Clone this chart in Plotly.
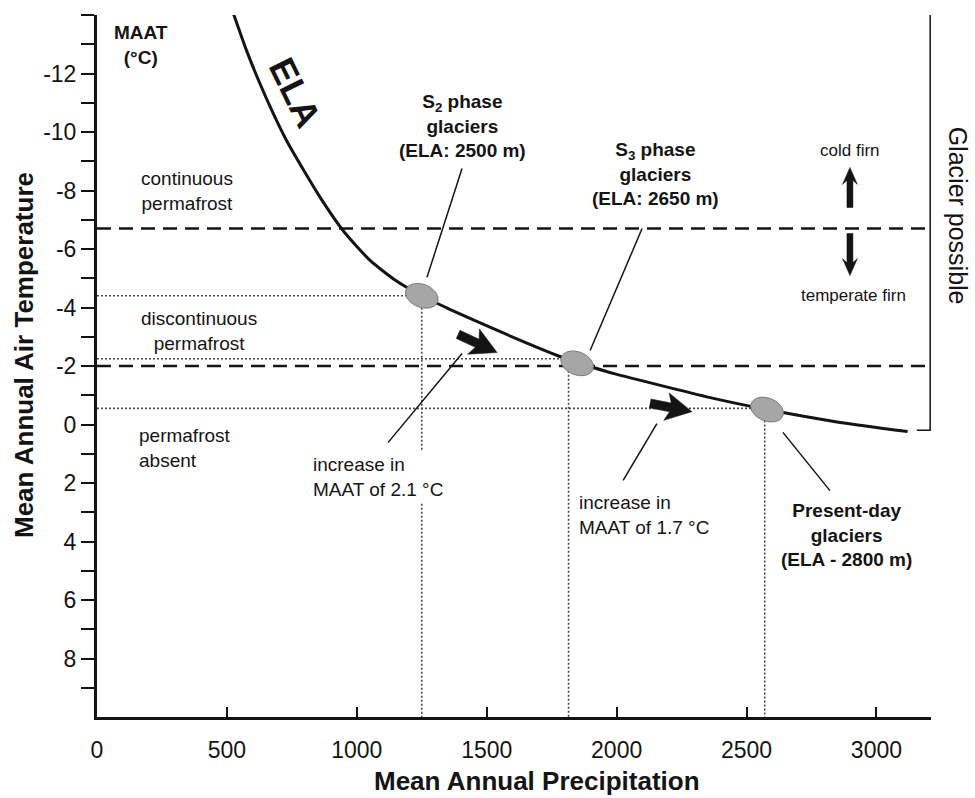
import numpy as np
import plotly.graph_objects as go

# ---------------- data ----------------
ela_map = [525, 575, 625, 680, 730, 795, 860, 950, 1050, 1150, 1250, 1360, 1550, 1790, 1910, 1990, 2360, 2580, 2860, 3120]
ela_maat = [-14.05, -12.8, -11.7, -10.6, -9.7, -8.7, -7.75, -6.6, -5.62, -4.92, -4.4, -3.93, -3.18, -2.3, -1.95, -1.74, -0.92, -0.51, -0.07, 0.24]

glacier_names = ["S2", "S3", "Present"]
glacier_map = [1250, 1848, 2579]
glacier_maat = [-4.4, -2.09, -0.51]

ref_map = [1250, 1815, 2570]
ref_maat = [-4.4, -2.25, -0.55]

permafrost_limits = [-6.7, -2.0]
glacier_possible = [-14.1, 0.2]

x_ticks = [0, 500, 1000, 1500, 2000, 2500, 3000]
y_ticks = [-12, -10, -8, -6, -4, -2, 0, 2, 4, 6, 8]
y_minor = [-14, -13, -11, -9, -7, -5, -3, -1, 1, 3, 5, 7, 9]

X_RANGE = [0, 3210]
Y_RANGE = [10, -14]

FONT = "Liberation Sans, Arial, Helvetica, sans-serif"
INK = "#141414"

# layout geometry (pixels)
W, H = 975, 798
ML, MR, MT, MB = 97, 44, 15, 81
PW, PH = W - ML - MR, H - MT - MB
PX_X = PW / (X_RANGE[1] - X_RANGE[0])
PX_Y = PH / abs(Y_RANGE[0] - Y_RANGE[1])

fig = go.Figure()

# dashed permafrost limits
for v in permafrost_limits:
    fig.add_trace(go.Scatter(x=[0, 3195], y=[v, v], mode="lines",
                             line=dict(color=INK, width=2.5, dash="14px,8px"),
                             hoverinfo="skip", showlegend=False))

# dotted reference lines
for mx, my in zip(ref_map, ref_maat):
    fig.add_trace(go.Scatter(x=[0, mx], y=[my, my], mode="lines",
                             line=dict(color="#4a4a4a", width=1.6, dash="2px,2px"),
                             hoverinfo="skip", showlegend=False))
    fig.add_trace(go.Scatter(x=[mx, mx], y=[my, Y_RANGE[0]], mode="lines",
                             line=dict(color="#4a4a4a", width=1.6, dash="2px,2px"),
                             hoverinfo="skip", showlegend=False))

# ELA curve
fig.add_trace(go.Scatter(x=ela_map, y=ela_maat, mode="lines",
                         line=dict(color=INK, width=3, shape="spline", smoothing=0.6),
                         hoverinfo="skip", showlegend=False))

# glacier ellipses (tilted, size in pixels)
a_px, b_px, th = 17, 11.5, np.deg2rad(22)
t = np.linspace(0, 2 * np.pi, 60)
for cx, cy in zip(glacier_map, glacier_maat):
    dx = a_px * np.cos(t) * np.cos(th) - b_px * np.sin(t) * np.sin(th)
    dy = a_px * np.cos(t) * np.sin(th) + b_px * np.sin(t) * np.cos(th)
    fig.add_trace(go.Scatter(x=cx + dx / PX_X, y=cy + dy / PX_Y, mode="lines",
                             fill="toself", fillcolor="#a6a6a6",
                             line=dict(color="#7a7a7a", width=1),
                             hoverinfo="skip", showlegend=False))

# block arrows: (tail, tip, shaft width px, head length px, head width px)
arrows = [((1390, -3.08), (1540, -2.46), 9, 22, 28),
          ((2129, -0.72), (2290, -0.44), 9, 22, 28),
          ((2898, -7.42), (2898, -8.79), 6, 13, 15),
          ((2898, -6.53), (2898, -5.09), 6, 13, 15)]
for (tx, ty), (hx, hy), sw, hl, hw in arrows:
    # work in pixel space (screen y grows with MAAT because the axis is reversed)
    p0 = np.array([tx * PX_X, ty * PX_Y])
    p1 = np.array([hx * PX_X, hy * PX_Y])
    u = (p1 - p0) / np.linalg.norm(p1 - p0)
    n = np.array([-u[1], u[0]])
    neck = p1 - u * hl
    notch = 4
    pts = [p0 + n * sw / 2, neck + n * sw / 2, neck - u * notch + n * hw / 2, p1,
           neck - u * notch - n * hw / 2, neck - n * sw / 2, p0 - n * sw / 2, p0 + n * sw / 2]
    fig.add_trace(go.Scatter(x=[p[0] / PX_X for p in pts], y=[p[1] / PX_Y for p in pts],
                             mode="lines", fill="toself", fillcolor=INK,
                             line=dict(color=INK, width=0.5),
                             hoverinfo="skip", showlegend=False))

shapes = []
# leader lines
leaders = [((1405, -8.75), (1270, -5.03)),
           ((2098, -6.7), (1898, -2.53)),
           ((1405, -2.43), (1120, 0.62)),
           ((2155, -0.03), (2025, 1.91)),
           ((2640, 0.27), (2821, 2.26))]
for (x0, y0), (x1, y1) in leaders:
    shapes.append(dict(type="line", xref="x", yref="y", x0=x0, y0=y0, x1=x1, y1=y1,
                       line=dict(color=INK, width=1.5)))
# "Glacier possible" bracket
shapes.append(dict(type="path", xref="paper", yref="y",
                   path=f"M 0.983,{glacier_possible[0]} L 0.999,{glacier_possible[0]} "
                        f"L 0.999,{glacier_possible[1]} L 0.983,{glacier_possible[1]}",
                   line=dict(color=INK, width=1.5)))

ann = []


def txt(x, y, text, size=19, bold=False, xanchor="center", align="center", **kw):
    if bold:
        text = "<br>".join(f"<b>{s}</b>" for s in text.split("<br>"))
    d = dict(x=x, y=y, xref="x", yref="y", text=text, showarrow=False,
             font=dict(family=FONT, size=size, color=INK),
             xanchor=xanchor, yanchor="middle", align=align)
    d.update(kw)
    ann.append(d)


txt(169, -12.96, "MAAT<br>(°C)", size=19, bold=True)
txt(762, -11.35, "<b>ELA</b>", size=36, textangle=64)
txt(346, -7.97, "continuous<br>permafrost")
txt(393, -3.18, "discontinuous<br>permafrost")
txt(154, 0.79, "permafrost<br>absent", xanchor="left", align="left")
txt(1405, -10.22, "S<sub>2</sub> phase<br>glaciers<br>(ELA: 2500 m)", size=19, bold=True)
txt(2148, -8.58, "S<sub>3</sub> phase<br>glaciers<br>(ELA: 2650 m)", size=19, bold=True)
txt(2898, -9.37, "cold firn", size=17)
txt(2910, -4.41, "temperate firn", size=17)
txt(820, 1.79, "increase in<br>MAAT of 2.1 °C", xanchor="left", align="left",
    bgcolor="white", borderpad=2)
txt(1848, 3.11, "increase in<br>MAAT of 1.7 °C", xanchor="left", align="left")
txt(2883, 3.79, "Present-day<br>glaciers<br>(ELA - 2800 m)", size=19, bold=True)
txt(3218, 8.99, "<b>MAP (mm W<sub>eq</sub>)</b>", size=19, xanchor="right")

ann.append(dict(x=1.032, y=-7.15, xref="paper", yref="y", text="Glacier possible",
                showarrow=False, textangle=90, font=dict(family=FONT, size=25, color=INK),
                xanchor="center", yanchor="middle"))
ann.append(dict(x=(537 - ML) / PW, y=(MT + PH - 781) / PH, xref="paper", yref="paper",
                text="<b>Mean Annual Precipitation</b>", showarrow=False,
                font=dict(family=FONT, size=26, color=INK), xanchor="center", yanchor="middle"))
ann.append(dict(x=(24 - ML) / PW, y=(MT + PH - 355) / PH, xref="paper", yref="paper",
                text="<b>Mean Annual Air Temperature</b>", showarrow=False, textangle=-90,
                font=dict(family=FONT, size=26, color=INK), xanchor="center", yanchor="middle"))

fig.update_layout(
    width=W, height=H,
    margin=dict(l=ML, r=MR, t=MT, b=MB, pad=0),
    paper_bgcolor="white", plot_bgcolor="white",
    showlegend=False, hovermode=False,
    font=dict(family=FONT, color=INK),
    shapes=shapes, annotations=ann,
    xaxis=dict(range=X_RANGE, showgrid=False, zeroline=False,
               showline=True, linecolor=INK, linewidth=3,
               ticks="inside", ticklen=10, tickwidth=2, tickcolor=INK,
               tickvals=x_ticks, ticktext=[str(v) for v in x_ticks],
               tickfont=dict(family=FONT, size=23, color=INK),
               ticklabelstandoff=10),
    yaxis=dict(range=Y_RANGE, showgrid=False, zeroline=False,
               showline=True, linecolor=INK, linewidth=3,
               ticks="outside", ticklen=13, tickwidth=2, tickcolor=INK,
               tickvals=y_ticks, ticktext=[str(v) for v in y_ticks],
               tickfont=dict(family=FONT, size=23, color=INK),
               minor=dict(tickvals=y_minor, ticks="outside", ticklen=13,
                          tickwidth=2, tickcolor=INK)),
)

fig.write_html("out.html", config={"displayModeBar": False},
               post_script="document.body.style.margin='0';document.body.style.overflow='hidden';")
